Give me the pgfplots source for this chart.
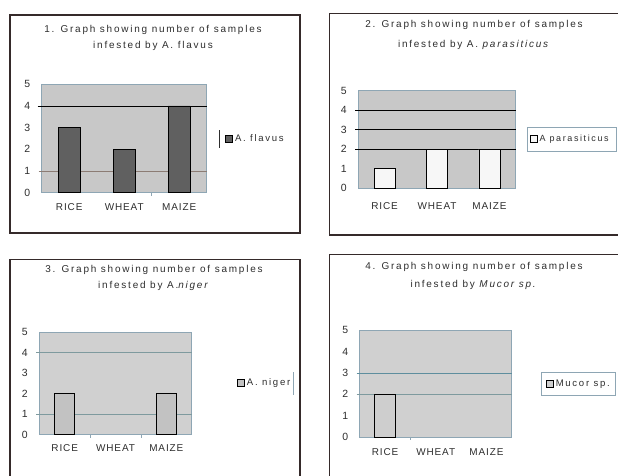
\documentclass[border=0pt]{standalone}
\usepackage{fontspec}
\setmainfont{Liberation Sans}
\newfontfamily\spfont[LetterSpace=18]{Liberation Sans}
\newfontfamily\tkfont[LetterSpace=9]{Liberation Sans}
\usepackage{pgfplots}
\pgfplotsset{compat=1.18}
\definecolor{txt}{HTML}{2E2E2E}
\definecolor{framec}{HTML}{352A2A}
\definecolor{bgA}{HTML}{C8C8C8}
\definecolor{bgB}{HTML}{D0D0D0}
\definecolor{barA}{HTML}{606060}
\definecolor{barB}{HTML}{F7F7F7}
\definecolor{barC}{HTML}{C2C2C2}
\definecolor{barD}{HTML}{CECECE}
\definecolor{axl}{HTML}{8EA6B4}
\definecolor{gbrown}{HTML}{8C7C74}
\definecolor{gteal}{HTML}{7E9A9E}
\definecolor{gblue}{HTML}{5E8E9E}
\newcommand{\tf}{\spfont\fontsize{10}{12}\selectfont}
\newcommand{\lf}{\spfont\fontsize{9.6}{11}\selectfont}
\newcommand{\lfs}{\spfont\fontsize{9}{11}\selectfont}
\newcommand{\kf}{\tkfont\fontsize{10}{12}\selectfont}
\newcommand{\yf}{\tkfont\fontsize{10.5}{12}\selectfont}
\pgfplotsset{panel/.style={
  scale only axis, anchor=south west, clip=false,
  xmin=-0.5, xmax=2.5, ymin=0, ymax=5,
  xtick={0,1,2}, xticklabels={RICE,WHEAT,MAIZE},
  ytick={0,1,2,3,4,5},
  major tick length=0pt,
  /pgf/number format/assume math mode=true,
  tick label style={font=\kf, text=txt},
  yticklabel style={xshift=-8bp, font=\yf},
  axis line style={draw=axl, line width=0.6bp},
  ybar, bar width=0.4,
  legend style={draw=none, fill=none, anchor=west, inner sep=0pt, font=\lf, text=txt},
  legend image code/.code={\draw[##1, line width=0.8bp] (0bp,-3.5bp) rectangle (7bp,3.5bp);},
}}
\begin{document}
\begin{tikzpicture}[x=1bp,y=1bp]
\useasboundingbox (0,0) rectangle (618,476);
\fill[white] (0,0) rectangle (618,476);
% frames
\draw[framec, line width=1.2bp] (10,243) rectangle (300,461);
\draw[framec, line width=1.2bp] (620,241) -- (329.7,241) -- (329.7,462.7) -- (620,462.7);
\draw[framec, line width=1.2bp] (10,-2) -- (10,216.3) -- (300,216.3) -- (300,-2);
\draw[framec, line width=1.2bp] (329.7,-2) -- (329.7,221.3) -- (620,221.3);
% legend frames
\draw[txt, line width=0.6bp] (219,328) -- (219,346);
\draw[axl, line width=0.6bp] (527,325) rectangle (616,349);
\draw[axl, line width=0.6bp] (293,81) -- (293,104);
\draw[axl, line width=0.6bp] (541,81) rectangle (615,104);
% titles
\node[font=\tf, text=txt] at (153,446) {1. Graph showing number of samples};
\node[font=\tf, text=txt] at (153,430.3) {infested  by A. flavus};
\node[font=\tf, text=txt] at (474,451) {2. Graph showing number of samples};
\node[font=\tf, text=txt] at (474,431) {infested  by A. \textit{parasiticus}};
\node[font=\tf, text=txt] at (154,206) {3. Graph showing number of samples};
\node[font=\tf, text=txt] at (154,190) {infested  by A.\textit{niger}};
\node[font=\tf, text=txt] at (474,209) {4. Graph showing number of samples};
\node[font=\tf, text=txt] at (474,191.3) {infested  by \textit{Mucor sp.}};
% panel 1
\begin{axis}[panel, at={(41.7bp,283.3bp)}, width=165bp, height=108.4bp,
  axis background/.style={fill=bgA}, legend style={at={(1.111,0.495)}},
  xticklabel style={yshift=-7bp}]
\draw[gbrown, line width=0.6bp] ([xshift=-3bp]axis cs:-0.5,1) -- (axis cs:2.5,1);
\draw[black, line width=0.8bp] ([xshift=-4bp]axis cs:-0.5,4) -- (axis cs:2.5,4);
\draw[axl, line width=0.6bp] (axis cs:1.5,0) -- ([yshift=-3bp]axis cs:1.5,0);
\addplot[fill=barA, draw=black, line width=0.9bp] coordinates {(0,3) (1,2) (2,4)};
\addlegendentry{A. flavus}
\end{axis}
% panel 2
\begin{axis}[panel, at={(358.3bp,287.7bp)}, width=157.4bp, height=97.6bp,
  axis background/.style={fill=bgA}, legend style={at={(1.088,0.505)}, font=\lfs},
  xticklabel style={yshift=-11bp}]
\draw[black, line width=0.8bp] ([xshift=-3bp]axis cs:-0.5,2) -- (axis cs:2.5,2);
\draw[black, line width=0.8bp] ([xshift=-3bp]axis cs:-0.5,3) -- (axis cs:2.5,3);
\draw[black, line width=0.8bp] ([xshift=-3bp]axis cs:-0.5,4) -- (axis cs:2.5,4);
\addplot[fill=barB, draw=black, line width=0.9bp] coordinates {(0,1) (1,2) (2,2)};
\addlegendentry{A parasiticus}
\end{axis}
% panel 3
\begin{axis}[panel, at={(39.3bp,41.3bp)}, width=152.4bp, height=102.4bp,
  axis background/.style={fill=bgB}, legend style={at={(1.297,0.505)}},
  xticklabel style={yshift=-6bp}]
\draw[gteal, line width=0.6bp] ([xshift=-3bp]axis cs:-0.5,1) -- (axis cs:2.5,1);
\draw[gteal, line width=0.6bp] ([xshift=-3bp]axis cs:-0.5,4) -- (axis cs:2.5,4);
\draw[axl, line width=0.6bp] (axis cs:0.5,0) -- ([yshift=-3bp]axis cs:0.5,0);
\draw[axl, line width=0.6bp] (axis cs:1.5,0) -- ([yshift=-3bp]axis cs:1.5,0);
\addplot[fill=barC, draw=black, line width=0.9bp] coordinates {(0,2) (2,2)};
\addlegendentry{A. niger}
\end{axis}
% panel 4
\begin{axis}[panel, at={(359.7bp,39bp)}, width=152bp, height=106.7bp,
  axis background/.style={fill=bgB}, legend style={at={(1.224,0.501)}},
  xticklabel style={yshift=-8bp}]
\draw[gteal, line width=0.6bp] ([xshift=-3bp]axis cs:-0.5,2) -- (axis cs:2.5,2);
\draw[gblue, line width=0.7bp] ([xshift=-3bp]axis cs:-0.5,3) -- (axis cs:2.5,3);
\draw[axl, line width=0.6bp] (axis cs:0.5,0) -- ([yshift=-3bp]axis cs:0.5,0);
\addplot[fill=barD, draw=black, line width=0.9bp] coordinates {(0,2)};
\addlegendentry{Mucor sp.}
\end{axis}
\end{tikzpicture}
\end{document}
